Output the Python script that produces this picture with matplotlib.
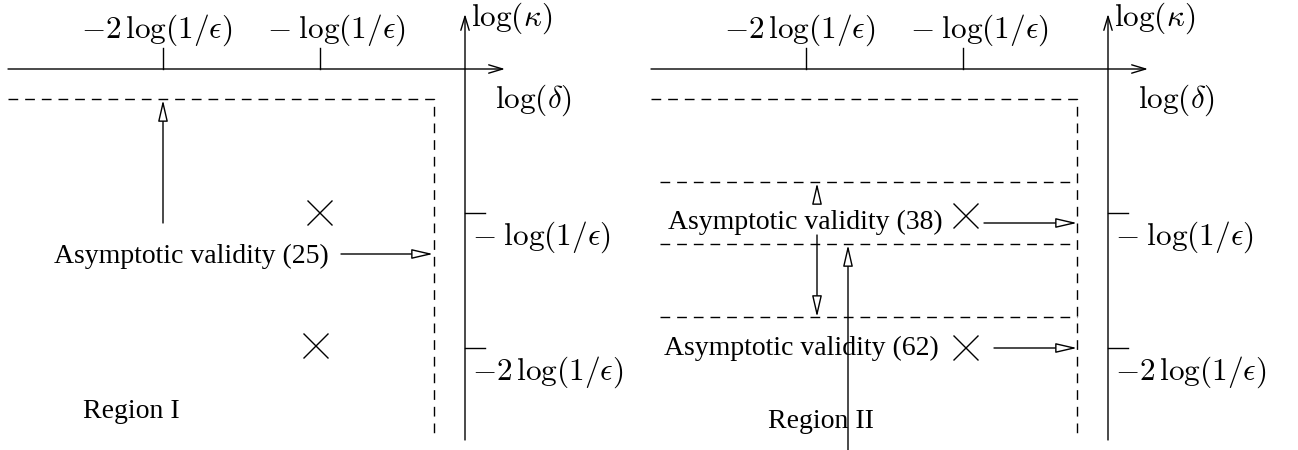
import matplotlib
matplotlib.use("Agg")
import matplotlib.pyplot as plt

plt.rcParams["mathtext.fontset"] = "cm"
plt.rcParams["font.family"] = ["Liberation Serif", "DejaVu Serif"]

# ── diagram data (pixel coordinates of the reference sketch) ─────────────
PANEL_X0      = [0, 643]                 # horizontal offset of each panel
ORIGIN_X      = 465                      # vertical axis position
AXIS_Y        = 69                       # horizontal axis position
AXIS_LEFT     = 8
AXIS_RIGHT    = 505
AXIS_TOP      = 14
AXIS_BOTTOM   = 440
XTICK_POS     = [163, 320]
XLABEL_POS    = [157, 336]
XTICK_LABELS  = [r"$-2\,\log(1/\epsilon)$", r"$-\;\log(1/\epsilon)$"]
YTICK_POS     = [213, 348]
YTICK_LABELS  = [r"$-\;\log(1/\epsilon)$", r"$-2\,\log(1/\epsilon)$"]
BOX_TOP       = 99
BOX_RIGHT     = 434
BOX_BOTTOM    = 433

# region I
CROSSES_I     = [(320, 213), (316, 346)]
LABEL_I       = ("Asymptotic validity (25)", 191, 256)
ARROW_I       = [((341, 254), (433, 254)), ((163, 223), (163, 100))]
REGION_I      = ("Region I", 131, 412)

# region II (coordinates relative to the right panel)
DASH_II       = [182, 244, 317]
CROSSES_II    = [(323, 216), (323, 348)]
LABELS_II     = [("Asymptotic validity (38)", 162, 222),
                 ("Asymptotic validity (62)", 158, 348)]
ARROWS_II     = [((341, 223), (434, 223)), ((351, 348), (434, 348)),
                 ((174, 203), (174, 183)), ((174, 235), (174, 317)),
                 ((205, 450), (205, 245))]
REGION_II     = ("Region II", 178, 421)

fig = plt.figure(figsize=(12.98, 4.5), dpi=100)
ax = fig.add_axes([0, 0, 1, 1])
ax.set_xlim(0, 1298)
ax.set_ylim(450, 0)
ax.axis("off")

LW = 1.0
MATH_FS = 22.5
TEXT_FS = 20


def arrow(p0, p1):
    ax.annotate("", xy=p1, xytext=p0,
                arrowprops=dict(arrowstyle="-|>,head_length=1.3,head_width=0.3",
                                lw=LW, color="black", fc="white",
                                shrinkA=0, shrinkB=0))


def axis_arrow(p0, p1):
    ax.annotate("", xy=p1, xytext=p0,
                arrowprops=dict(arrowstyle="->,head_length=1.0,head_width=0.3",
                                lw=LW, color="black", shrinkA=0, shrinkB=0))


def cross(x, y, s=12):
    ax.plot([x - s, x + s], [y - s, y + s], color="black", lw=LW)
    ax.plot([x - s, x + s], [y + s, y - s], color="black", lw=LW)


def dashed(xs, ys):
    ax.plot(xs, ys, color="black", lw=LW, linestyle=(0, (7, 5)))


for dx in PANEL_X0:
    ox = ORIGIN_X + dx
    # axes
    axis_arrow((AXIS_LEFT + dx, AXIS_Y), (AXIS_RIGHT + dx, AXIS_Y))
    axis_arrow((ox, AXIS_BOTTOM), (ox, AXIS_TOP))
    ax.text(ox + 6, 18, r"$\log(\kappa)$", fontsize=MATH_FS, ha="left", va="center")
    ax.text(ox + 30, 100, r"$\log(\delta)$", fontsize=MATH_FS, ha="left", va="center")
    for xp, xl, lab in zip(XTICK_POS, XLABEL_POS, XTICK_LABELS):
        ax.plot([xp + dx, xp + dx], [AXIS_Y - 21, AXIS_Y], color="black", lw=LW)
        ax.text(xl + dx, 30, lab, fontsize=MATH_FS, ha="center", va="center")
    for yp, lab in zip(YTICK_POS, YTICK_LABELS):
        ax.plot([ox, ox + 20], [yp, yp], color="black", lw=LW)
        ax.text(ox + 7, yp + 24, lab, fontsize=MATH_FS, ha="left", va="center")
    # dashed box
    dashed([AXIS_LEFT + dx, BOX_RIGHT + dx, BOX_RIGHT + dx],
           [BOX_TOP, BOX_TOP, BOX_BOTTOM])

# region I
for x, y in CROSSES_I:
    cross(x, y)
ax.text(LABEL_I[1], LABEL_I[2], LABEL_I[0], fontsize=TEXT_FS, ha="center", va="center")
for p0, p1 in ARROW_I:
    arrow(p0, p1)
ax.text(REGION_I[1], REGION_I[2], REGION_I[0], fontsize=TEXT_FS, ha="center", va="center")

# region II
dx = PANEL_X0[1]
for yd in DASH_II:
    dashed([17 + dx, BOX_RIGHT + dx], [yd, yd])
for x, y in CROSSES_II:
    cross(x + dx, y)
for lab, x, y in LABELS_II:
    ax.text(x + dx, y, lab, fontsize=TEXT_FS, ha="center", va="center")
for p0, p1 in ARROWS_II:
    arrow((p0[0] + dx, p0[1]), (p1[0] + dx, p1[1]))
ax.text(REGION_II[1] + dx, REGION_II[2], REGION_II[0], fontsize=TEXT_FS,
        ha="center", va="center")

fig.savefig("out.png", dpi=100)
